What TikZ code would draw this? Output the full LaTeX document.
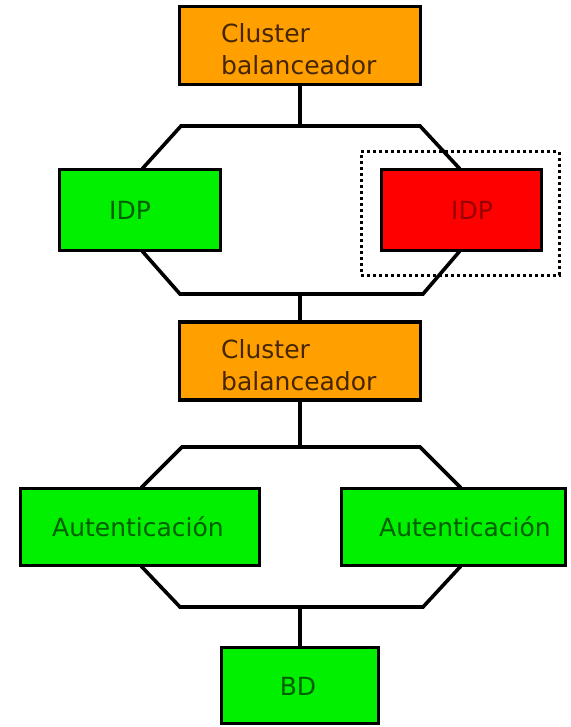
\documentclass[tikz,border=0pt]{standalone}
\usepackage{fontspec}
\setmainfont{DejaVu Sans}
\definecolor{orfill}{RGB}{255,160,0}
\definecolor{grfill}{RGB}{0,240,0}
\definecolor{rdfill}{RGB}{255,0,0}
\definecolor{ortxt}{RGB}{70,38,0}
\definecolor{grtxt}{RGB}{0,95,0}
\definecolor{rdtxt}{RGB}{150,0,0}
\begin{document}
\begin{tikzpicture}[x=1pt,y=-1pt,
  conn/.style={draw=black, line width=3.6pt, line join=miter},
  boxbase/.style={draw=black, line width=3.6pt, rectangle, inner sep=0pt},
  orangebox/.style={boxbase, fill=orfill, minimum width=241pt, minimum height=78pt},
  greenbox/.style={boxbase, fill=grfill},
  redbox/.style={boxbase, fill=rdfill},
  selbox/.style={draw=black, line width=3pt, dash pattern=on 3pt off 3pt, rectangle, inner sep=0pt},
  txt/.style={inner sep=0pt, font=\fontsize{25}{32}\selectfont},
  otxt/.style={txt, text=ortxt, align=left, anchor=west},
  gtxt/.style={txt, text=grtxt},
  rtxt/.style={txt, text=rdtxt}
]
\useasboundingbox (0,0) rectangle (570,727);

% junction coordinates
\coordinate (j1) at (300,126);
\coordinate (j2) at (300,294);
\coordinate (j3) at (300,447);
\coordinate (j4) at (300,607);

% octagon 1
\coordinate (o1a) at (181,126);
\coordinate (o1b) at (420,126);
\coordinate (o1c) at (459,168);
\coordinate (o1d) at (459,252);
\coordinate (o1e) at (423,294);
\coordinate (o1f) at (180,294);
\coordinate (o1g) at (143,252);
\coordinate (o1h) at (143,168);
\draw[conn] (o1a) -- (o1b) -- (o1c) -- (o1d) -- (o1e) -- (o1f) -- (o1g) -- (o1h) -- cycle;

% octagon 2
\coordinate (o2a) at (182,447);
\coordinate (o2b) at (420,447);
\coordinate (o2c) at (460,487);
\coordinate (o2d) at (460,567);
\coordinate (o2e) at (423,607);
\coordinate (o2f) at (180,607);
\coordinate (o2g) at (142,567);
\coordinate (o2h) at (142,487);
\draw[conn] (o2a) -- (o2b) -- (o2c) -- (o2d) -- (o2e) -- (o2f) -- (o2g) -- (o2h) -- cycle;

% boxes
\node[orangebox] (cb1) at (300,45.5) {};
\node[otxt] (cb1t) at (221,49) {Cluster\\balanceador};

\node[greenbox, minimum width=161pt, minimum height=81pt] (idp1) at (140,210) {};
\node[gtxt] (idp1t) at (130,210) {IDP};
\node[redbox, minimum width=160pt, minimum height=81pt] (idp2) at (461.5,210) {};
\node[rtxt] (idp2t) at (472,210) {IDP};
\node[selbox, minimum width=198pt, minimum height=123pt] (sel) at (460,213.5) {};

\node[orangebox] (cb2) at (300,361) {};
\node[otxt] (cb2t) at (221,365) {Cluster\\balanceador};

\node[greenbox, minimum width=239pt, minimum height=77pt] (aut1) at (140,527) {};
\node[gtxt] (aut1t) at (138,527) {Autenticación};
\node[greenbox, minimum width=224pt, minimum height=77pt] (aut2) at (453.5,527) {};
\node[gtxt] (aut2t) at (465,527) {Autenticación};

\node[greenbox, minimum width=157pt, minimum height=76pt] (bd) at (300,685.5) {};
\node[gtxt] (bdt) at (298,686) {BD};

% vertical connectors
\draw[conn] (cb1.south) -- (j1);
\draw[conn] (j2) -- (cb2.north);
\draw[conn] (cb2.south) -- (j3);
\draw[conn] (j4) -- (bd.north);
\end{tikzpicture}
\end{document}
